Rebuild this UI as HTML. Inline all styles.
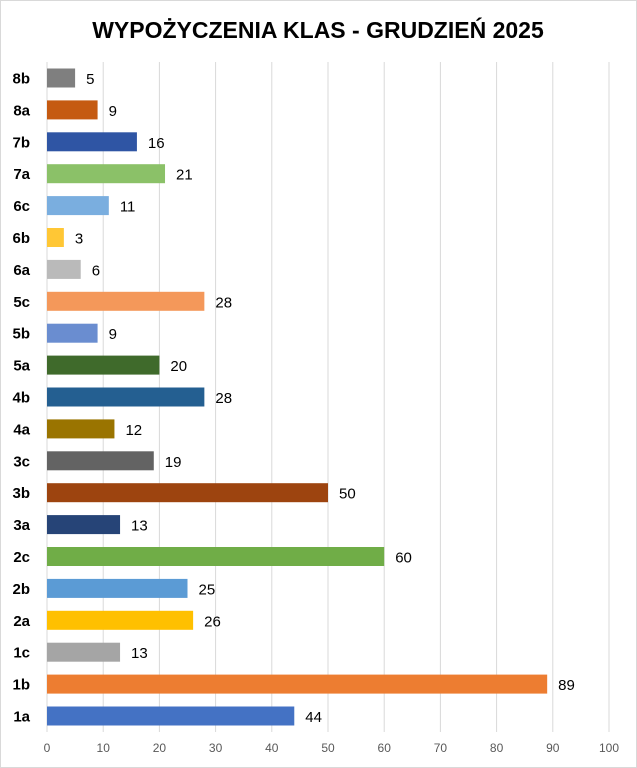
<!DOCTYPE html>
<html><head><meta charset="utf-8"><style>
body{margin:0;background:#fff}
svg{display:block;font-family:"Liberation Sans","DejaVu Sans",sans-serif}
</style></head><body>
<svg width="637" height="768" xmlns="http://www.w3.org/2000/svg">
<rect x="0.5" y="0.5" width="636" height="767" fill="#fff" stroke="#d9d9d9"/>
<text x="318" y="38" text-anchor="middle" font-size="23" font-weight="bold" fill="#000">WYPOŻYCZENIA KLAS - GRUDZIEŃ 2025</text>
<g stroke="#d9d9d9" stroke-width="1" id="grid"></g>
<g id="bars"></g>
<g id="ticks" font-size="12" fill="#595959" text-anchor="middle"></g>
<script>
var d=[["8b",5,"#7f7f7f"],["8a",9,"#c55a11"],["7b",16,"#2f55a4"],["7a",21,"#8bc168"],["6c",11,"#7aaedf"],["6b",3,"#ffc735"],["6a",6,"#bababa"],["5c",28,"#f4985a"],["5b",9,"#6a8dd0"],["5a",20,"#3f6a2b"],["4b",28,"#245f91"],["4a",12,"#9a7400"],["3c",19,"#636363"],["3b",50,"#9d440f"],["3a",13,"#264477"],["2c",60,"#70ad47"],["2b",25,"#5b9bd5"],["2a",26,"#ffc000"],["1c",13,"#a5a5a5"],["1b",89,"#ed7d31"],["1a",44,"#4472c4"]];
var ns="http://www.w3.org/2000/svg",x0=47,s=5.62;
function el(t,a,p,txt){var e=document.createElementNS(ns,t);for(var k in a)e.setAttribute(k,a[k]);if(txt!=null)e.textContent=txt;p.appendChild(e);return e;}
var g=document.getElementById("grid"),b=document.getElementById("bars"),tk=document.getElementById("ticks");
for(var i=0;i<=10;i++){var x=x0+i*10*s;el("line",{x1:x,x2:x,y1:62,y2:732},g);el("text",{x:x,y:752},tk,i*10);}
d.forEach(function(r,i){var cy=78+i*31.9;
el("rect",{x:x0,y:cy-9.5,width:r[1]*s,height:19,fill:r[2]},b);
el("text",{x:30,y:cy+5.5,"font-size":15,"font-weight":"bold","text-anchor":"end",fill:"#000"},b,r[0]);
el("text",{x:x0+r[1]*s+11,y:cy+6,"font-size":15,fill:"#000"},b,r[1]);});
</script>
</svg>
</body></html>
